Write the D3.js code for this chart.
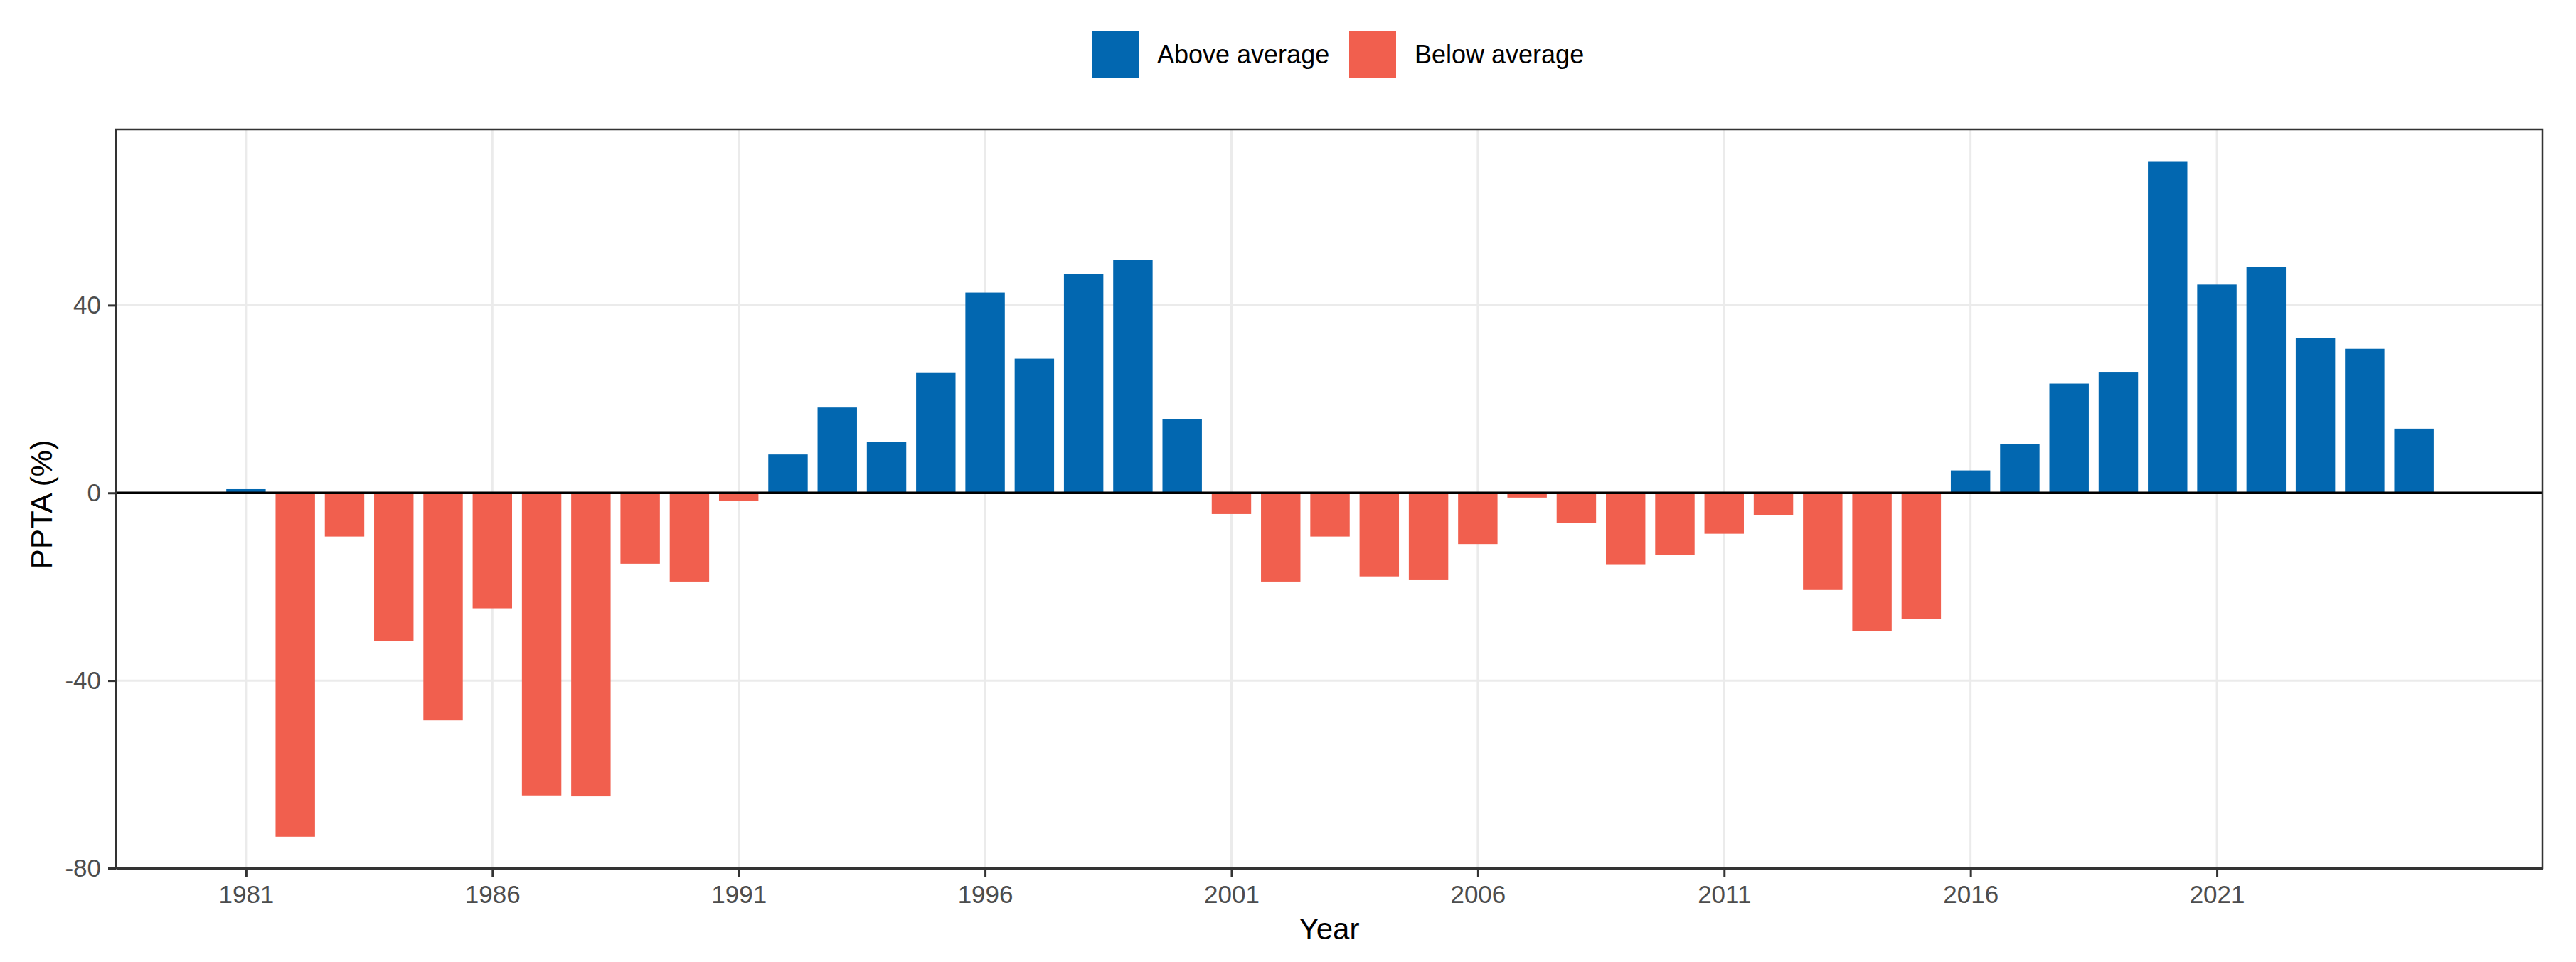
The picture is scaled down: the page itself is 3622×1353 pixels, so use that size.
<!DOCTYPE html>
<html>
<head>
<meta charset="utf-8">
<script src="https://cdn.jsdelivr.net/npm/d3@7"></script>
<style>
  body { margin: 0; background: #fff; }
  svg { display: block; font-family: "Liberation Sans", Arial, sans-serif; }
</style>
</head>
<body>
<div id="chart"></div>
<script>
// --- data ---
const years = [1981, 1982, 1983, 1984, 1985, 1986, 1987, 1988, 1989, 1990,
  1991, 1992, 1993, 1994, 1995, 1996, 1997, 1998, 1999, 2000,
  2001, 2002, 2003, 2004, 2005, 2006, 2007, 2008, 2009, 2010,
  2011, 2012, 2013, 2014, 2015, 2016, 2017, 2018, 2019, 2020,
  2021, 2022, 2023, 2024, 2025];
const ppta = [0.8, -73.3, -9.3, -31.6, -48.5, -24.6, -64.5, -64.7, -15.1, -18.9,
  -1.7, 8.2, 18.2, 10.9, 25.7, 42.7, 28.6, 46.6, 49.7, 15.7,
  -4.5, -18.9, -9.3, -17.8, -18.6, -10.9, -1.0, -6.4, -15.2, -13.2,
  -8.7, -4.7, -20.7, -29.4, -26.9, 4.8, 10.4, 23.3, 25.8, 70.6,
  44.4, 48.1, 33.0, 30.7, 13.7];
const xTicks = [1981, 1986, 1991, 1996, 2001, 2006, 2011, 2016, 2021];
const yTicks = [-80, -40, 0, 40];
const legendLabels = ["Above average", "Below average"];
const colors = { "Above average": "#0267B0", "Below average": "#F15F4E" };

const width = 3622, height = 1353;
const panel = { left: 163, top: 182, right: 3575, bottom: 1221 };

const svg = d3.select("#chart").append("svg")
  .attr("width", width)
  .attr("height", height);

const x = d3.scaleLinear()
  .domain([1978.36, 2027.61])
  .range([panel.left, panel.right]);

const y = d3.scaleLinear()
  .domain([-80, 77.5])
  .range([panel.bottom, panel.top]);

const data = years.map((yr, i) => ({ year: yr, value: ppta[i],
  group: ppta[i] >= 0 ? "Above average" : "Below average" }));

// grid
const grid = svg.append("g");
grid.selectAll("line.vg").data(xTicks).join("line")
  .attr("x1", d => x(d)).attr("x2", d => x(d))
  .attr("y1", panel.top).attr("y2", panel.bottom)
  .attr("stroke", "#EBEBEB").attr("stroke-width", 3);
grid.selectAll("line.hg").data(yTicks).join("line")
  .attr("x1", panel.left).attr("x2", panel.right)
  .attr("y1", d => y(d)).attr("y2", d => y(d))
  .attr("stroke", "#EBEBEB").attr("stroke-width", 3);

// bars
const barHalf = 0.4;
svg.append("g").selectAll("rect").data(data).join("rect")
  .attr("x", d => x(d.year - barHalf))
  .attr("width", d => x(d.year + barHalf) - x(d.year - barHalf))
  .attr("y", d => y(Math.max(0, d.value)))
  .attr("height", d => Math.abs(y(d.value) - y(0)))
  .attr("fill", d => colors[d.group]);

// zero line
svg.append("line")
  .attr("x1", panel.left).attr("x2", panel.right)
  .attr("y1", y(0)).attr("y2", y(0))
  .attr("stroke", "#000").attr("stroke-width", 3.5);

// panel border
svg.append("rect")
  .attr("x", panel.left).attr("y", panel.top)
  .attr("width", panel.right - panel.left)
  .attr("height", panel.bottom - panel.top)
  .attr("fill", "none").attr("stroke", "#333").attr("stroke-width", 2.5);

// axes (plain hyphen for negatives, like the original)
const plain = d => String(d);
const xAxis = d3.axisBottom(x).tickValues(xTicks).tickFormat(plain)
  .tickSize(12).tickSizeOuter(0).tickPadding(12);
const gx = svg.append("g").attr("transform", `translate(0,${panel.bottom})`).call(xAxis);
gx.select(".domain").attr("stroke", "#333").attr("stroke-width", 3.5);
gx.selectAll(".tick line").attr("stroke", "#333").attr("stroke-width", 3);
gx.selectAll(".tick text").attr("fill", "#4D4D4D").style("font-size", "35px")
  .style("font-family", "'Liberation Sans', Arial, sans-serif");

const yAxis = d3.axisLeft(y).tickValues(yTicks).tickFormat(plain)
  .tickSize(11).tickSizeOuter(0).tickPadding(10);
const gy = svg.append("g").attr("transform", `translate(${panel.left},0)`).call(yAxis);
gy.select(".domain").attr("stroke", "#333").attr("stroke-width", 2.5);
gy.selectAll(".tick line").attr("stroke", "#333").attr("stroke-width", 3);
gy.selectAll(".tick text").attr("fill", "#4D4D4D").style("font-size", "35px")
  .style("font-family", "'Liberation Sans', Arial, sans-serif");

// axis titles
svg.append("text")
  .attr("x", (panel.left + panel.right) / 2).attr("y", 1321)
  .attr("text-anchor", "middle")
  .style("font-size", "42px").attr("fill", "#000")
  .text("Year");

svg.append("text")
  .attr("transform", `translate(73,${(panel.top + panel.bottom) / 2 + 8}) rotate(-90)`)
  .attr("text-anchor", "middle")
  .style("font-size", "42px").attr("fill", "#000")
  .text("PPTA (%)");

// legend
const legendX = [1535, 1897];
const legend = svg.append("g");
legendLabels.forEach((lab, i) => {
  legend.append("rect")
    .attr("x", legendX[i]).attr("y", 43)
    .attr("width", 66).attr("height", 66)
    .attr("fill", colors[lab]);
  legend.append("text")
    .attr("x", legendX[i] + 92).attr("y", 76)
    .attr("dominant-baseline", "central")
    .style("font-size", "36px").attr("fill", "#000")
    .text(lab);
});
</script>
</body>
</html>
